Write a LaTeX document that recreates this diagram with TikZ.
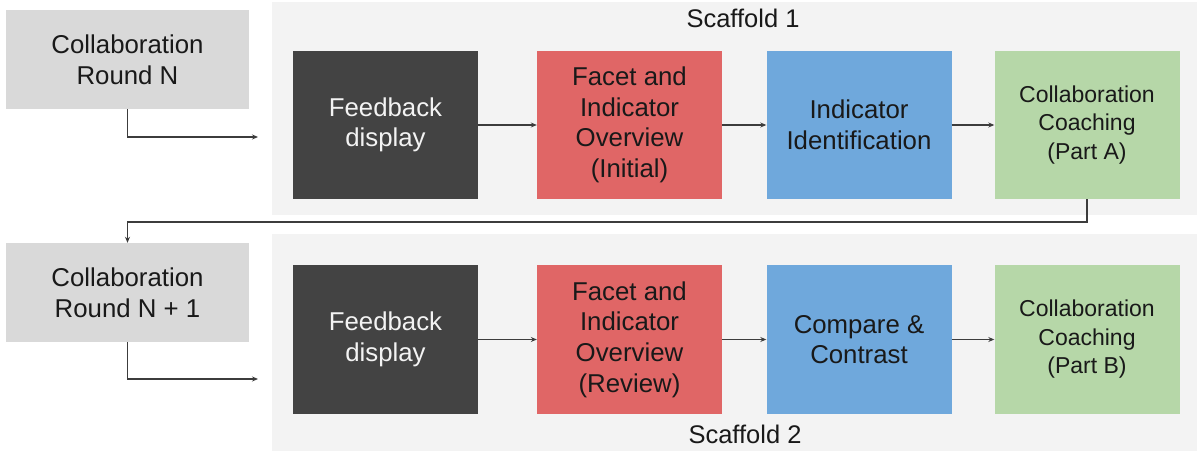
\documentclass[tikz,border=0pt]{standalone}
\usepackage{fontspec}
\setmainfont{Liberation Sans}
\usetikzlibrary{arrows.meta}
\definecolor{roundgray}{HTML}{D9D9D9}
\definecolor{panelgray}{HTML}{F3F3F3}
\definecolor{darkbox}{HTML}{434343}
\definecolor{redbox}{HTML}{E06666}
\definecolor{bluebox}{HTML}{6FA8DC}
\definecolor{greenbox}{HTML}{B6D7A8}
\definecolor{linkgray}{HTML}{3C3C3C}
\begin{document}
\begin{tikzpicture}[x=1pt,y=-1pt,%
% common options for blocks:
block/.style = {align=center, inner sep=0, minimum width=185pt,
            minimum height=148pt, text=black!90,
            font=\fontsize{25.8}{30.6}\selectfont},
% common options for the round boxes:
round/.style = {fill=roundgray, align=center, inner sep=0, minimum width=243pt,
            minimum height=99pt, text=black!90,
            font=\fontsize{25.8}{30.6}\selectfont},
% common options for the scaffold panels:
panel/.style = {fill=panelgray, inner sep=0, minimum width=925pt},
title/.style = {text=black!90, font=\fontsize{25.5}{30}\selectfont},
link/.style = {draw=linkgray, line width=1.1pt, -{Stealth[length=6pt,width=5pt]}}]
\useasboundingbox (0,0) rectangle (1200,454);
\node[panel,minimum height=213pt] (S1) at (734.5,108.5) {};
\node[panel,minimum height=217pt] (S2) at (734.5,342.5) {};
\node[title] (T1) at (743,18) {Scaffold 1};
\node[title] (T2) at (745,434) {Scaffold 2};
\node[round] (R1) at (127.5,59.5) {Collaboration\\Round N};
\node[round] (R2) at (127.5,292.5) {Collaboration\\Round N + 1};
\node[block,fill=darkbox,text=panelgray] (FB1) at (385.5,125) {Feedback\\display};
\node[block,fill=redbox] (FI1) at (629.5,125) {Facet and\\Indicator\\Overview\\(Initial)};
\node[block,fill=bluebox] (ID1) at (859,125) {Indicator\\Identification};
\node[block,fill=greenbox,font=\fontsize{23}{28.5}\selectfont] (CC1) at (1087,125) {Collaboration\\Coaching\\(Part A)};
\node[block,fill=darkbox,text=panelgray] (FB2) at (385.5,339.5) {Feedback\\display};
\node[block,fill=redbox] (FI2) at (629.5,339.5) {Facet and\\Indicator\\Overview\\(Review)};
\node[block,fill=bluebox] (CC2x) at (859,339.5) {Compare \&\\Contrast};
\node[block,fill=greenbox,font=\fontsize{23}{28.5}\selectfont] (CC2) at (1087,339.5) {Collaboration\\Coaching\\(Part B)};
\coordinate (in1) at (258,137);
\coordinate (in2) at (258,379);
\coordinate (back) at (1087,222);
\draw[link] (R1.south) |- (in1);
\draw[link] (R2.south) |- (in2);
\draw[link] (FB1.east) to (FI1.west);
\draw[link] (FI1.east) to (ID1.west);
\draw[link] (ID1.east) to (CC1.west);
\draw[link] (FB2.east) to (FI2.west);
\draw[link] (FI2.east) to (CC2x.west);
\draw[link] (CC2x.east) to (CC2.west);
\draw[link] (CC1.south) -- (back) -| (R2.north);
\end{tikzpicture}
\end{document}
